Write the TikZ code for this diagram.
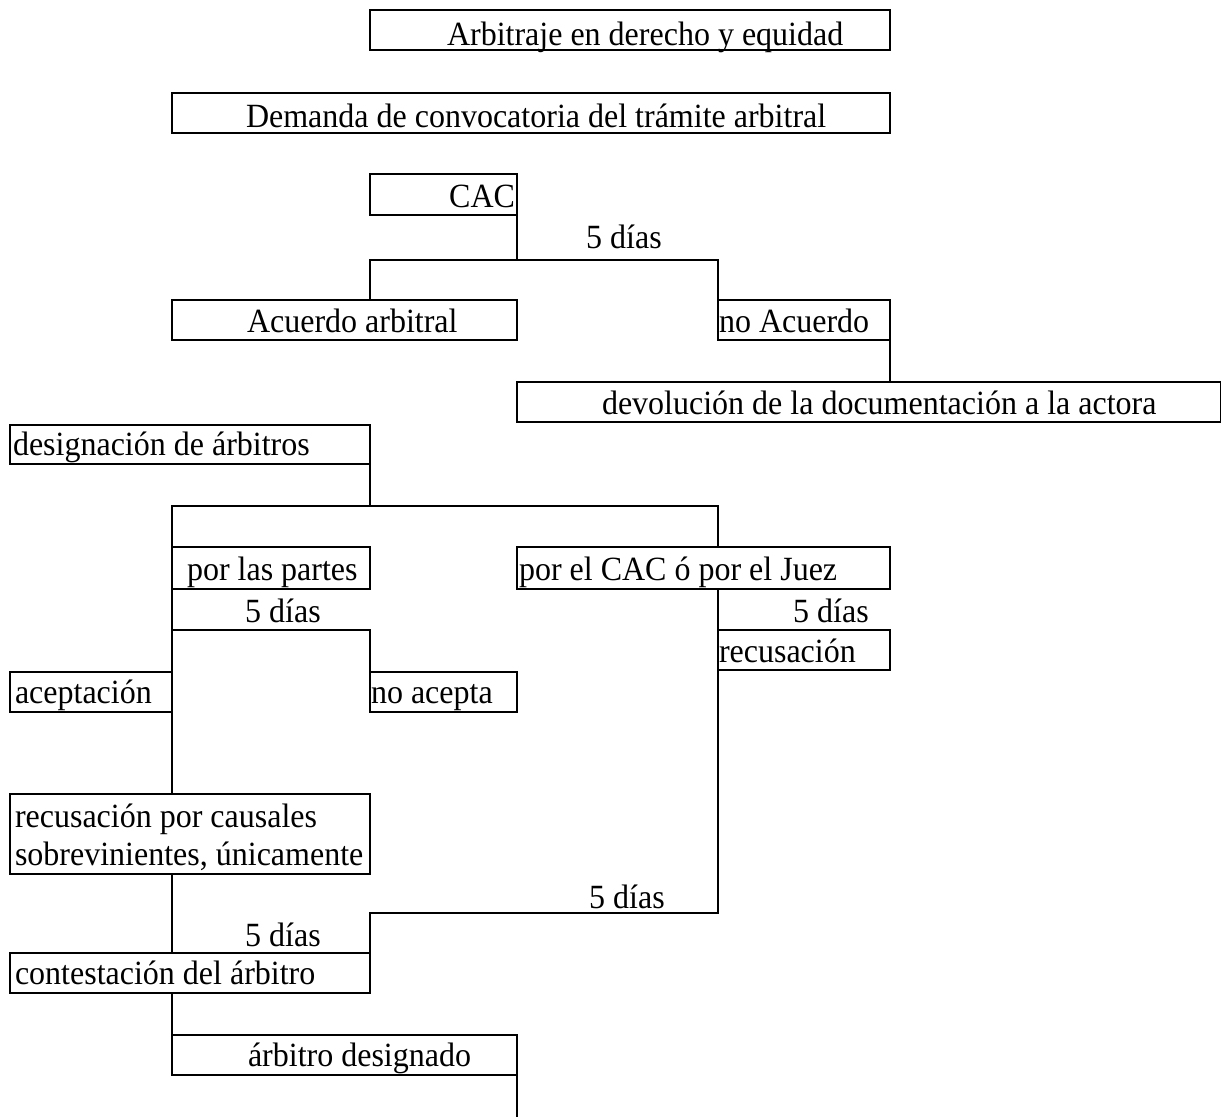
\documentclass[tikz,border=0pt]{standalone}
\usepackage{fontspec}
\usepackage{graphicx}
\setmainfont{Liberation Serif}
\newcommand\tx[1]{\scalebox{1}[1.06]{#1}}
\begin{document}
\begin{tikzpicture}[x=1pt,y=-1pt,
  box/.style={draw, line width=2pt, rectangle, inner sep=0, outer sep=0, anchor=north west},
  txt/.style={inner sep=0, outer sep=0, anchor=base west, font=\fontsize{32}{39}\selectfont},
  conn/.style={line width=2pt}]
\useasboundingbox (0,0) rectangle (1221,1117);
% boxes
\node[box, minimum width=520pt, minimum height=40pt] (arb) at (370,10) {};
\node[box, minimum width=718pt, minimum height=40pt] (dem) at (172,93) {};
\node[box, minimum width=147pt, minimum height=41pt] (cac) at (370,174) {};
\node[box, minimum width=345pt, minimum height=40pt] (acu) at (172,300) {};
\node[box, minimum width=172pt, minimum height=40pt] (noacu) at (718,300) {};
\node[box, minimum width=704pt, minimum height=40pt] (dev) at (517,382) {};
\node[box, minimum width=360pt, minimum height=39pt] (des) at (10,425) {};
\node[box, minimum width=198pt, minimum height=42pt] (partes) at (172,547) {};
\node[box, minimum width=373pt, minimum height=42pt] (juez) at (517,547) {};
\node[box, minimum width=172pt, minimum height=40pt] (recu) at (718,630) {};
\node[box, minimum width=162pt, minimum height=40pt] (acep) at (10,672) {};
\node[box, minimum width=147pt, minimum height=40pt] (noac) at (370,672) {};
\node[box, minimum width=360pt, minimum height=80pt] (caus) at (10,794) {};
\node[box, minimum width=360pt, minimum height=40pt] (cont) at (10,953) {};
\node[box, minimum width=345pt, minimum height=40pt] (desig) at (172,1035) {};
% texts
\node[txt] (tarb) at (447,45) {\tx{Arbitraje en derecho y equidad}};
\node[txt] (tdem) at (246,127) {\tx{Demanda de convocatoria del trámite arbitral}};
\node[txt, anchor=base east] (tcac) at (515,207) {\tx{CAC}};
\node[txt, anchor=base] (d1) at (624,248) {\tx{5 días}};
\node[txt] (tacu) at (247,332) {\tx{Acuerdo arbitral}};
\node[txt] (tnoacu) at (719,332) {\tx{no Acuerdo}};
\node[txt] (tdev) at (602,414) {\tx{devolución de la documentación a la actora}};
\node[txt] (tdes) at (13,455) {\tx{designación de árbitros}};
\node[txt] (tpartes) at (187,580) {\tx{por las partes}};
\node[txt] (tjuez) at (519,580) {\tx{por el CAC ó por el Juez}};
\node[txt, anchor=base] (d2) at (283,622) {\tx{5 días}};
\node[txt, anchor=base] (d3) at (831,622) {\tx{5 días}};
\node[txt] (trecu) at (719,662) {\tx{recusación}};
\node[txt] (tacep) at (15,703) {\tx{aceptación}};
\node[txt] (tnoac) at (371,703) {\tx{no acepta}};
\node[txt] (tcaus1) at (15,827) {\tx{recusación por causales}};
\node[txt] (tcaus2) at (15,865) {\tx{sobrevinientes, únicamente}};
\node[txt, anchor=base] (d4) at (627,908) {\tx{5 días}};
\node[txt, anchor=base] (d5) at (283,946) {\tx{5 días}};
\node[txt] (tcont) at (15,984) {\tx{contestación del árbitro}};
\node[txt] (tdesig) at (248,1066) {\tx{árbitro designado}};
% junctions
\coordinate (j1L) at (370,260);
\coordinate (j1R) at (718,260);
\coordinate (j2L) at (172,506);
\coordinate (j2R) at (718,506);
\coordinate (j3R) at (370,630);
\coordinate (j4L) at (370,913);
\coordinate (j4R) at (718,913);
\coordinate (endc) at (517,1117);
% connectors
\draw[conn] (cac.south east) -- (cac.south east |- j1L);
\draw[conn] (acu.north -| j1L) -- (j1L) -- (j1R) -- (noacu.north west);
\draw[conn] (noacu.south east) -- (dev.north -| noacu.south east);
\draw[conn] (des.south east) -- (des.south east |- j2L);
\draw[conn] (partes.north west) -- (j2L) -- (j2R) -- (juez.north -| j2R);
\draw[conn] (partes.south west) -- (caus.north -| partes.south west);
\draw[conn] (partes.south west |- j3R) -- (j3R) -- (noac.north west);
\draw[conn] (juez.south -| recu.north west) -- (recu.north west);
\draw[conn] (recu.south west) -- (j4R) -- (j4L) -- (cont.north east);
\draw[conn] (caus.south -| partes.south west) -- (cont.north -| partes.south west);
\draw[conn] (cont.south -| desig.north west) -- (desig.north west);
\draw[conn] (desig.south east) -- (endc);
\end{tikzpicture}
\end{document}
